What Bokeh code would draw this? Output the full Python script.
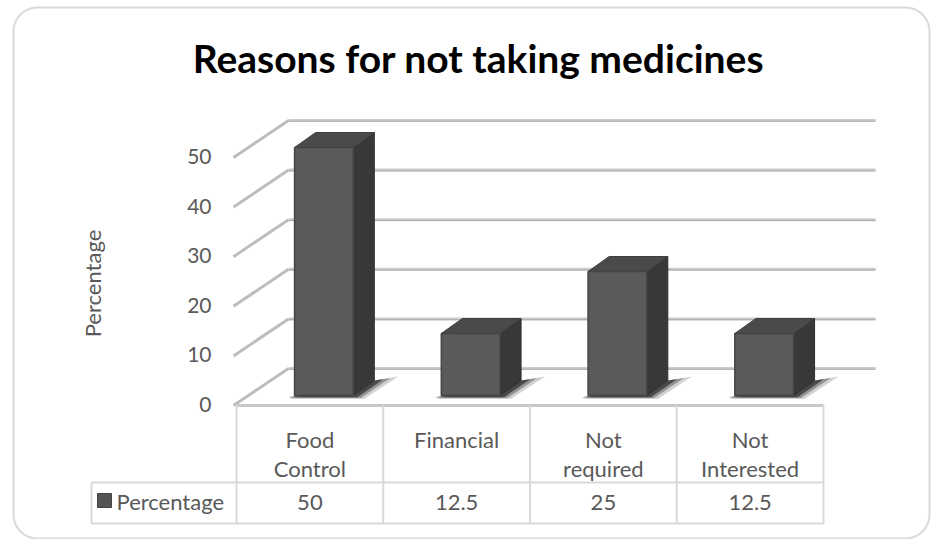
import numpy as np
from bokeh.plotting import figure
from bokeh.models import Range1d
from bokeh.embed import file_html
from bokeh.resources import INLINE
from bokeh.core.properties import value

# ---------------- data ----------------
title_text = "Reasons for not taking medicines"
categories = ["Food Control", "Financial", "Not required", "Not Interested"]
percentages = [50, 12.5, 25, 12.5]
value_labels = ["50", "12.5", "25", "12.5"]
y_ticks = [0, 10, 20, 30, 40, 50]
y_axis_title = "Percentage"
series_name = "Percentage"

# ---------------- layout (pixels) ----------------
WIDTH, HEIGHT = 931, 539
X0, Y0 = 236.0, 405.0      # front-left corner of the floor
CAT_PX = 146.75            # one category, px
VAL_PX = 4.96              # px per percentage point
DEPTH_DX = 52.0 / CAT_PX   # full depth offset in category units
DEPTH_DY = 37.0 / VAL_PX   # full depth offset in value units
FONT = value("Lato")
TXT = "#595959"
FS = "22px"


def X(px):
    return (px - X0) / CAT_PX


def Y(py):
    return (Y0 - py) / VAL_PX


p = figure(width=WIDTH, height=HEIGHT, output_backend="svg", toolbar_location=None,
           x_range=Range1d(X(0), X(WIDTH)), y_range=Range1d(Y(HEIGHT), Y(0)),
           x_axis_type=None, y_axis_type=None, min_border=0,
           outline_line_color=None)
p.grid.visible = False
p.background_fill_color = "white"
p.border_fill_color = "white"


# outer rounded border
def rounded_rect(l, t, r, b, rad, n=14):
    xs, ys = [], []
    corners = [(r - rad, t + rad, -90, 0), (r - rad, b - rad, 0, 90),
               (l + rad, b - rad, 90, 180), (l + rad, t + rad, 180, 270)]
    for cx, cy, a0, a1 in corners:
        for a in np.linspace(a0, a1, n):
            xs.append(X(cx + rad * np.cos(np.radians(a))))
            ys.append(Y(cy + rad * np.sin(np.radians(a))))
    xs.append(xs[0])
    ys.append(ys[0])
    return xs, ys


bx, by = rounded_rect(13, 7, 929, 538, 24)
p.line(bx, by, line_color="#d9d9d9", line_width=2)

# title
p.text(x=[X(478)], y=[Y(57)], text=[title_text], text_font=FONT, text_font_size="39px",
       text_font_style="bold", text_color="black", text_align="center",
       text_baseline="middle")

ncat = len(categories)
nt = len(y_ticks)

# back wall gridlines
back_y = [t + DEPTH_DY for t in y_ticks]
p.segment(x0=[DEPTH_DX] * nt, y0=back_y, x1=[ncat + DEPTH_DX] * nt, y1=back_y,
          line_color="#cccccc", line_width=3)
p.segment(x0=[DEPTH_DX] * nt, y0=[b - 0.15 for b in back_y], x1=[ncat + DEPTH_DX] * nt,
          y1=[b - 0.15 for b in back_y], line_color="#adadad", line_width=1)
# left wall diagonals
p.segment(x0=[X(233)] * nt, y0=y_ticks, x1=[DEPTH_DX] * nt, y1=back_y,
          line_color="#bdbdbd", line_width=3)

# bars
d1, d2 = 0.27, 0.675
front_xs, front_ys, side_xs, side_ys, top_xs, top_ys = [], [], [], [], [], []
sh_layers = [([], []), ([], []), ([], [])]
for i, v in enumerate(percentages):
    xl, xr = i + 0.30, i + 0.70
    fx, fy = d1 * DEPTH_DX, d1 * DEPTH_DY
    bxo, byo = d2 * DEPTH_DX, d2 * DEPTH_DY
    # soft shadow on the floor: layers from wide/light to narrow/dark
    for k, (ext, rise, drop) in enumerate([(24, 4, 3.5), (16, 2.5, 2.5), (9, 1.2, 1.8)]):
        sh_layers[k][0].append([xl + fx - 6 / CAT_PX, xr + fx + ext * 0.45 / CAT_PX,
                                xr + bxo + ext / CAT_PX, xr + bxo])
        sh_layers[k][1].append([fy - drop / VAL_PX, fy - drop / VAL_PX,
                                byo + rise / VAL_PX, byo])
    front_xs.append([xl + fx, xr + fx, xr + fx, xl + fx])
    front_ys.append([fy, fy, v + fy, v + fy])
    side_xs.append([xr + fx, xr + bxo, xr + bxo, xr + fx])
    side_ys.append([fy, byo, v + byo, v + fy])
    top_xs.append([xl + fx, xr + fx, xr + bxo, xl + bxo])
    top_ys.append([v + fy, v + fy, v + byo, v + byo])

for (sx, sy), a in zip(sh_layers, [0.18, 0.3, 0.5]):
    p.patches(sx, sy, fill_color="black", fill_alpha=a, line_color=None)
p.patches(side_xs, side_ys, fill_color="#383838", line_color="#303030", line_width=1)
p.patches(top_xs, top_ys, fill_color="#4a4a4a", line_color="#3e3e3e", line_width=1)
p.patches(front_xs, front_ys, fill_color="#5a5a5a", line_color="#454545", line_width=1.5)

# data table
y_hdr_bot = Y(482)
y_tbl_bot = Y(523)
x_key_left = X(91)
p.segment(x0=[0], y0=[0], x1=[ncat], y1=[0], line_color="#c8c8c8", line_width=3)
p.segment(x0=[x_key_left, x_key_left], y0=[y_hdr_bot, y_tbl_bot], x1=[ncat, ncat],
          y1=[y_hdr_bot, y_tbl_bot], line_color="#d9d9d9", line_width=2)
p.segment(x0=list(range(ncat + 1)), y0=[0] * (ncat + 1), x1=list(range(ncat + 1)),
          y1=[y_tbl_bot] * (ncat + 1), line_color="#d9d9d9", line_width=2)
p.segment(x0=[x_key_left], y0=[y_hdr_bot], x1=[x_key_left], y1=[y_tbl_bot],
          line_color="#d9d9d9", line_width=2)

l1_x, l1_y, l1_t, l2_x, l2_y, l2_t = [], [], [], [], [], []
for i, c in enumerate(categories):
    parts = c.split(" ", 1)
    l1_x.append(i + 0.5)
    l1_y.append(Y(439))
    l1_t.append(parts[0])
    if len(parts) > 1:
        l2_x.append(i + 0.5)
        l2_y.append(Y(468))
        l2_t.append(parts[1])
p.text(x=l1_x, y=l1_y, text=l1_t, text_font=FONT, text_font_size=FS, text_color=TXT,
       text_align="center", text_baseline="middle")
p.text(x=l2_x, y=l2_y, text=l2_t, text_font=FONT, text_font_size=FS, text_color=TXT,
       text_align="center", text_baseline="middle")
p.text(x=[i + 0.5 for i in range(ncat)], y=[Y(502)] * ncat, text=value_labels,
       text_font=FONT, text_font_size=FS, text_color=TXT, text_align="center",
       text_baseline="middle")
# legend key + series name
p.rect(x=[X(104)], y=[Y(500)], width=14 / CAT_PX, height=14 / VAL_PX,
       fill_color="#555555", line_color="#444444")
p.text(x=[X(116)], y=[Y(501)], text=[series_name], text_font=FONT, text_font_size=FS,
       text_color=TXT, text_align="left", text_baseline="middle")

# value tick labels (front plane)
p.text(x=[X(211)] * nt, y=[t + 0.2 for t in y_ticks], text=[str(t) for t in y_ticks],
       text_font=FONT, text_font_size="21px", text_color=TXT, text_align="right",
       text_baseline="middle")

# axis title
p.text(x=[X(92)], y=[Y(283)], text=[y_axis_title], angle=np.pi / 2, text_font=FONT,
       text_font_size=FS, text_color=TXT, text_align="center", text_baseline="middle")

open("out.html", "w").write(file_html(p, INLINE))
